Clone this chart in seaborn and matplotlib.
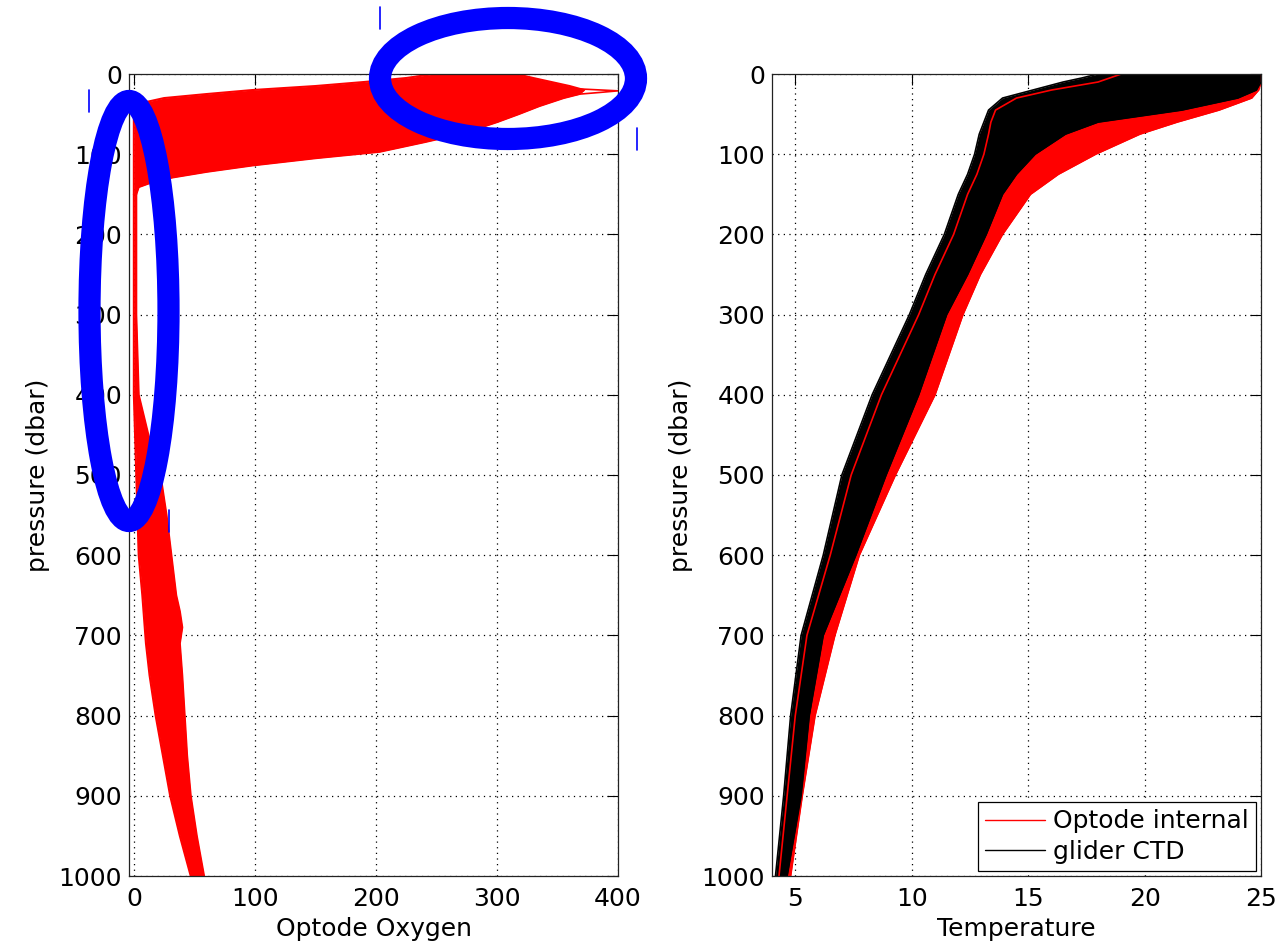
import matplotlib
matplotlib.use('Agg')
import matplotlib.pyplot as plt
from matplotlib.patches import Ellipse
from matplotlib.lines import Line2D
import numpy as np
import pandas as pd
import seaborn as sns

# ---- Optode oxygen, upper ocean (0-150 dbar): low / high edge of the bundle
pres_top = [0, 5, 10, 15, 20, 25, 30, 35, 40, 50, 60, 74, 85, 97, 105, 114, 122, 129, 135, 141, 150]
oxy_top_lo = [248, 225, 190, 150, 98, 60, 25, 10, 5, 0, 0, 0, 0, 0, 0, 0, 0, 0, 0, 0, 0]
oxy_top_hi = [316, 330, 345, 360, 372, 368, 355, 345, 335, 318, 300, 272, 240, 203, 150, 98, 60, 32, 15, 4, 2]
# the single spike reaching 400 just below the surface
spike_pres = [12, 18, 21, 23, 28]
spike_oxy = [330, 360, 400, 385, 345]

# ---- Optode oxygen, deep part (edges of the bundle)
pres_deep = [150, 300, 400, 450, 500, 550, 600, 650, 670, 690, 710, 750, 800, 850, 900, 950, 1000]
oxy_deep_lo = [0, 0, 0, 1, 2, 3, 4, 7, 8, 9, 10, 13, 18, 24, 30, 38, 47]
oxy_deep_hi = [2, 2, 4, 12, 22, 27, 31, 35, 38, 40, 38, 40, 42, 44, 47, 52, 58]

# ---- Temperature: edges of the optode (red) and CTD (black) bundles
pres_t = [0, 5, 10, 20, 30, 45, 60, 75, 100, 125, 150, 200, 250, 300, 400, 500, 600, 700, 800, 900, 1000]
ctd_cold = [18.0, 17.3, 16.5, 15.2, 13.9, 13.3, 13.1, 12.9, 12.7, 12.4, 12.0, 11.4, 10.6, 9.9, 8.3, 7.0, 6.2, 5.25, 4.8, 4.5, 4.15]
ctd_warm = [25.0, 25.0, 25.0, 24.8, 24.0, 21.6, 18.0, 16.6, 15.3, 14.5, 13.9, 13.2, 12.4, 11.5, 10.3, 8.9, 7.6, 6.2, 5.6, 5.25, 4.65]
opt_cold = [19.0, 18.5, 18.0, 16.0, 14.5, 13.6, 13.4, 13.3, 13.1, 12.8, 12.4, 11.8, 11.0, 10.3, 8.7, 7.4, 6.5, 5.5, 5.0, 4.65, 4.3]
opt_warm = [25.0, 25.0, 25.0, 24.9, 24.6, 23.2, 21.4, 19.8, 17.9, 16.3, 15.1, 13.9, 12.95, 12.2, 11.0, 9.3, 7.75, 6.7, 5.85, 5.3, 4.8]

W, H = 1286, 941
FS = 18


def long_table(pres, profiles):
    rows = []
    for name, vals in profiles.items():
        for p, v in zip(pres, vals):
            rows.append({'profile': name, 'pressure': p, 'value': v})
    return pd.DataFrame(rows)


def style_axes(ax):
    ax.set_ylim(1000, 0)
    ax.set_yticks(range(0, 1001, 100))
    ax.grid(True, color='k', linestyle=(0, (1, 3.5)), linewidth=0.9)
    ax.tick_params(direction='in', length=8, width=0.8, top=True, right=True,
                   labelsize=FS, colors='k')
    ax.tick_params(axis='y', pad=5)
    ax.tick_params(axis='x', pad=8)
    for s in ax.spines.values():
        s.set_visible(True)
        s.set_color('#222222')
        s.set_linewidth(0.9)
    ax.set_ylabel('pressure (dbar)', fontsize=FS, labelpad=6, color='k')


sns.set_style('white')
plt.rcParams['font.family'] = ['DejaVu Sans']
plt.rcParams['text.color'] = 'k'
plt.rcParams['axes.labelcolor'] = 'k'

fig = plt.figure(figsize=(W / 100, H / 100), dpi=100)
ax1 = fig.add_axes([129 / W, (H - 876) / H, (618 - 129) / W, (876 - 74) / H])
ax2 = fig.add_axes([772 / W, (H - 876) / H, (1261 - 772) / W, (876 - 74) / H])

# ---- left panel: oxygen
ax1.fill_betweenx(pres_top, oxy_top_lo, oxy_top_hi, color='r', lw=0)
top = long_table(pres_top, {'lo': oxy_top_lo, 'hi': oxy_top_hi})
sns.lineplot(data=top, x='value', y='pressure', units='profile', estimator=None,
             sort=False, color='r', linewidth=1.5, ax=ax1, legend=False)
sns.lineplot(x=spike_oxy, y=spike_pres, sort=False, estimator=None,
             color='r', linewidth=1.2, ax=ax1)
ax1.fill_betweenx(pres_deep, oxy_deep_lo, oxy_deep_hi, color='r', lw=0)
deep = long_table(pres_deep, {'lo': oxy_deep_lo, 'hi': oxy_deep_hi})
sns.lineplot(data=deep, x='value', y='pressure', units='profile', estimator=None,
             sort=False, color='r', linewidth=1.5, ax=ax1, legend=False)
style_axes(ax1)
ax1.set_xlim(-4, 400)
ax1.set_xticks([0, 100, 200, 300, 400])
ax1.set_xlabel('Optode Oxygen', fontsize=FS, color='k')

# ---- right panel: temperature
ax2.fill_betweenx(pres_t, opt_cold, opt_warm, color='r', lw=0)
opt = long_table(pres_t, {'c': opt_cold, 'w': opt_warm})
sns.lineplot(data=opt, x='value', y='pressure', units='profile', estimator=None,
             sort=False, color='r', linewidth=1.2, ax=ax2, legend=False)
ax2.fill_betweenx(pres_t, ctd_cold, ctd_warm, color='k', lw=0)
ctd = long_table(pres_t, {'c': ctd_cold, 'w': ctd_warm})
sns.lineplot(data=ctd, x='value', y='pressure', units='profile', estimator=None,
             sort=False, color='k', linewidth=1.2, ax=ax2, legend=False)
style_axes(ax2)
ax2.set_xlim(4, 25)
ax2.set_xticks([5, 10, 15, 20, 25])
ax2.set_xlabel('Temperature', fontsize=FS, color='k')
handles = [Line2D([], [], color='r', lw=1), Line2D([], [], color='k', lw=1)]
leg = ax2.legend(handles, ['Optode internal', 'glider CTD'], loc='lower right',
                 fontsize=FS, frameon=True, fancybox=False, framealpha=1,
                 edgecolor='k', borderaxespad=0.2, handlelength=2.4,
                 handletextpad=0.3, labelspacing=0.25, borderpad=0.3)
leg.get_frame().set_linewidth(0.9)

# ---- hand drawn blue marks on top
for cx, cy, w, h in [(129, 311, 79, 420), (508, 78.5, 256, 121)]:
    fig.add_artist(Ellipse((cx / W, 1 - cy / H), w / W, h / H, fill=False,
                           edgecolor='#0000ff', lw=16, transform=fig.transFigure,
                           zorder=10))
for x, y0, y1 in [(380, 7, 29), (89, 90, 112), (637, 128, 150), (169, 510, 532)]:
    fig.add_artist(Line2D([x / W, x / W], [1 - y0 / H, 1 - y1 / H], color='#0000ff',
                          lw=1.2, transform=fig.transFigure, zorder=10))

fig.savefig('out.png', dpi=100)
